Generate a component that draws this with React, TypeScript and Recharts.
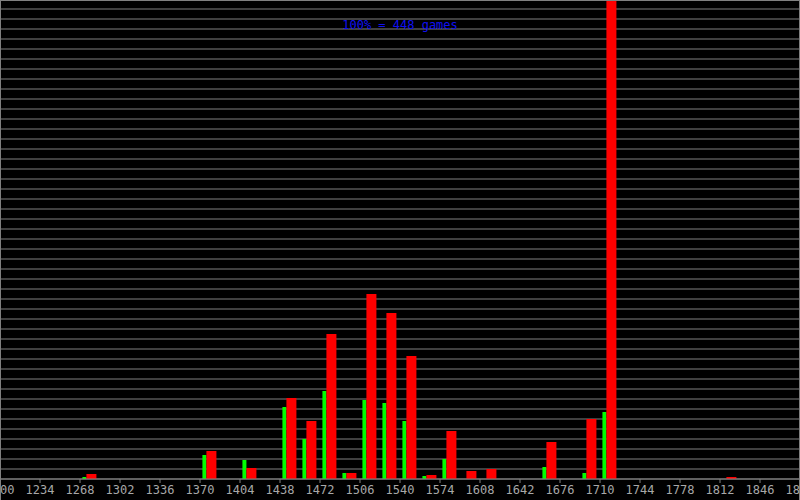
import React from "react";
import { BarChart, Bar, XAxis, YAxis, CartesianGrid } from "recharts";

// rating bins (17 points wide), start of each bin
const binStart = [
  1200, 1217, 1234, 1251, 1268, 1285, 1302, 1319, 1336, 1353,
  1370, 1387, 1404, 1421, 1438, 1455, 1472, 1489, 1506, 1523,
  1540, 1557, 1574, 1591, 1608, 1625, 1642, 1659, 1676, 1693,
  1710, 1727, 1744, 1761, 1778, 1795, 1812, 1829, 1846, 1863,
];

const greenValues = [
  0, 0, 0, 0, 0.2, 0, 0, 0, 0, 0,
  2.4, 0, 1.9, 0, 7.2, 4.0, 8.8, 0.6, 7.9, 7.6,
  5.8, 0.3, 2.0, 0, 0, 0, 0, 1.2, 0, 0.6,
  6.7, 0, 0, 0, 0, 0, 0, 0, 0, 0,
];

const redValues = [
  0, 0, 0, 0, 0.5, 0, 0, 0, 0, 0,
  2.8, 0, 1.1, 0, 8.1, 5.8, 14.5, 0.6, 18.5, 16.6,
  12.3, 0.4, 4.8, 0.8, 1.0, 0, 0, 3.7, 0, 6.0,
  50, 0, 0, 0, 0, 0, 0.2, 0, 0, 0,
];

const xTicks = [
  1200, 1234, 1268, 1302, 1336, 1370, 1404, 1438, 1472, 1506, 1540,
  1574, 1608, 1642, 1676, 1710, 1744, 1778, 1812, 1846, 1880,
];

const yTicks = [
  0, 1, 2, 3, 4, 5, 6, 7, 8, 9, 10, 11, 12, 13, 14, 15, 16, 17, 18, 19,
  20, 21, 22, 23, 24, 25, 26, 27, 28, 29, 30, 31, 32, 33, 34, 35, 36, 37,
  38, 39, 40, 41, 42, 43, 44, 45, 46, 47,
];

const title = "100% = 448 games";

const data = binStart.map((start, i) => ({
  rating: start + 8,
  green: greenValues[i],
  red: redValues[i],
}));

const mono = "'DejaVu Sans Mono', monospace";

export default function App() {
  return (
    <div
      style={{
        position: "absolute",
        left: 0,
        top: 0,
        width: 800,
        height: 500,
        background: "#000",
      }}
    >
      <BarChart
        width={800}
        height={500}
        data={data}
        margin={{ top: 0, right: 0, bottom: 0, left: 0 }}
        barGap={0}
      >
        <CartesianGrid horizontal vertical={false} stroke="#808080" />
        <XAxis
          dataKey="rating"
          type="number"
          domain={[1200, 1880]}
          ticks={xTicks}
          interval={0}
          height={21}
          stroke="#808080"
          tickSize={4}
          tick={{ fill: "#a8a8a8", fontSize: 12, fontFamily: mono }}
        />
        <YAxis
          hide
          domain={[0, 47.9]}
          ticks={yTicks}
          interval={0}
          allowDataOverflow
        />
        <Bar dataKey="green" fill="#00ff00" barSize={4} isAnimationActive={false} />
        <Bar dataKey="red" fill="#ff0000" barSize={10} isAnimationActive={false} />
      </BarChart>
      <div
        style={{
          position: "absolute",
          left: 0,
          top: 18,
          width: 800,
          textAlign: "center",
          color: "#1010f0",
          fontFamily: mono,
          fontSize: 12,
          lineHeight: "14px",
        }}
      >
        {title}
      </div>
      <div
        style={{
          position: "absolute",
          left: 0,
          top: 0,
          width: 800,
          height: 500,
          boxSizing: "border-box",
          borderTop: "1px solid #808080",
          borderLeft: "1px solid #808080",
          borderRight: "1px solid #808080",
          pointerEvents: "none",
        }}
      />
    </div>
  );
}
